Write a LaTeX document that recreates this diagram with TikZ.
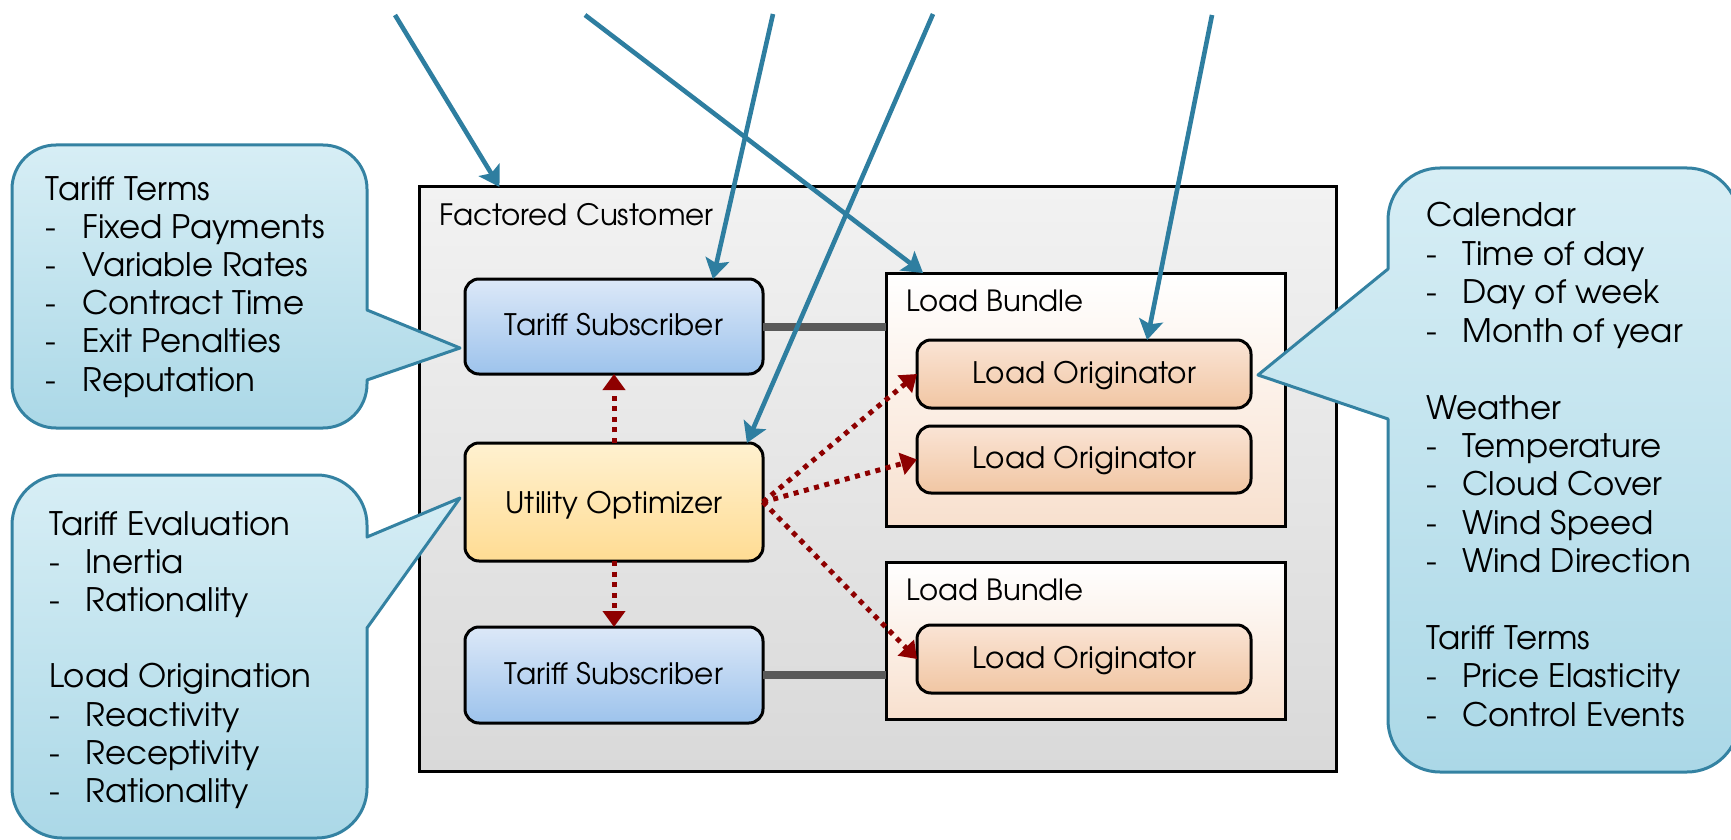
\documentclass[tikz,border=0pt]{standalone}
\usepackage{fontspec}
\setmainfont{texgyreadventor}[Extension=.otf, UprightFont=*-regular, BoldFont=*-bold]
\usetikzlibrary{arrows.meta,calc}
\definecolor{fcTop}{HTML}{F2F2F2}
\definecolor{fcBot}{HTML}{D9D9D9}
\definecolor{tsTop}{HTML}{DCE8F8}
\definecolor{tsBot}{HTML}{9DC3EC}
\definecolor{uoTop}{HTML}{FFF1D0}
\definecolor{uoBot}{HTML}{FFDC93}
\definecolor{lbTop}{HTML}{FFFFFF}
\definecolor{lbBot}{HTML}{F8E0CE}
\definecolor{loTop}{HTML}{FAE4D5}
\definecolor{loBot}{HTML}{F1C6A3}
\definecolor{coTop}{HTML}{D7EEF5}
\definecolor{coBot}{HTML}{ABD8E7}
\definecolor{coLine}{HTML}{3482A2}
\definecolor{arrBlue}{HTML}{2E7EA0}
\definecolor{redDot}{HTML}{8E0000}
\definecolor{connGray}{HTML}{595959}
\newcommand\itm[1]{\makebox[18.2pt][l]{-}#1}
\tikzset{
  boxbase/.style={draw=black, line width=1.5pt, inner sep=0pt, outer sep=0pt,
    font=\fontsize{14.8pt}{18pt}\selectfont, text height=9pt, text depth=0pt},
  fcbox/.style={boxbase, top color=fcTop, bottom color=fcBot},
  tsbox/.style={boxbase, rounded corners=7pt, top color=tsTop, bottom color=tsBot},
  uobox/.style={boxbase, rounded corners=7pt, top color=uoTop, bottom color=uoBot, text height=11pt},
  lbbox/.style={boxbase, top color=lbTop, bottom color=lbBot},
  lobox/.style={boxbase, rounded corners=7pt, top color=loTop, bottom color=loBot},
  lbl/.style={inner sep=0pt, outer sep=0pt, anchor=base west, font=\fontsize{14.6pt}{18pt}\selectfont},
  cotext/.style={inner sep=0pt, outer sep=0pt, anchor=base west, font=\fontsize{16.2pt}{19pt}\selectfont},
  callout/.style={draw=coLine, line width=1.5pt, top color=coTop, bottom color=coBot, line join=round},
  bluearr/.style={draw=arrBlue, line width=2.3pt, -{Stealth[length=10pt, width=12pt, inset=2pt]}},
  redarr/.style={draw=redDot, line width=2.5pt, dash pattern=on 2.5pt off 2.8pt,
    -{Triangle[length=8pt, width=11pt]}},
  grayconn/.style={draw=connGray, line width=4pt}
}
\begin{document}
\begin{tikzpicture}[x=0.5pt, y=-0.5pt]
\useasboundingbox (0,0) rectangle (1731,840);

% Factored customer container
\node[fcbox, minimum width=458.5pt, minimum height=292pt] (fc) at (877.5,479) {};
\node[lbl, font=\fontsize{14.7pt}{17pt}\selectfont] (fclbl) at (439,226) {Factored Customer};

% left column
\node[tsbox, minimum width=149pt, minimum height=47.5pt] (ts1) at (614,326.5) {Tariff Subscriber};
\node[uobox, minimum width=149pt, minimum height=59pt] (uo) at (614,502) {Utility Optimizer};
\node[tsbox, minimum width=149pt, minimum height=48pt] (ts2) at (614,675) {Tariff Subscriber};

% load bundles
\node[lbbox, minimum width=199.5pt, minimum height=126.5pt] (lb1) at (1085.5,399.5) {};
\node[lbl] (lb1lbl) at (906,311.7) {Load Bundle};
\node[lobox, minimum width=167pt, minimum height=34pt] (lo1) at (1084,374) {Load Originator};
\node[lobox, minimum width=167pt, minimum height=33.5pt] (lo2) at (1084,459.5) {Load Originator};

\node[lbbox, minimum width=199.5pt, minimum height=78.5pt] (lb2) at (1085.5,640.5) {};
\node[lbl] (lb2lbl) at (906,600) {Load Bundle};
\node[lobox, minimum width=167pt, minimum height=34pt] (lo3) at (1084,659) {Load Originator};

% connectors
\draw[grayconn] (ts1.east) -- (ts1.east -| lb1.west);
\draw[grayconn] (ts2.east) -- (ts2.east -| lb2.west);
\draw[redarr] (uo.north) -- (ts1.south);
\draw[redarr] (uo.south) -- (ts2.north);
\draw[redarr] (uo.east) -- (lo1.west);
\draw[redarr] (uo.east) -- (lo2.west);
\draw[redarr] (uo.east) -- (lo3.west);

% callouts
\draw[callout] (12,189) arc[start angle=180,end angle=90,radius=22pt] -- (323,145)
  arc[start angle=90,end angle=0,radius=22pt] -- (367,310) -- (460,348) -- (367,380) -- (367,384)
  arc[start angle=0,end angle=-90,radius=22pt] -- (56,428)
  arc[start angle=270,end angle=180,radius=22pt] -- cycle;
\draw[callout] (12,525) arc[start angle=180,end angle=90,radius=25pt] -- (317,475)
  arc[start angle=90,end angle=0,radius=25pt] -- (367,537) -- (460,498) -- (367,628) -- (367,788)
  arc[start angle=0,end angle=-90,radius=25pt] -- (62,838)
  arc[start angle=270,end angle=180,radius=25pt] -- cycle;
\draw[callout] (1388,220) arc[start angle=180,end angle=90,radius=26pt] -- (1687,168)
  arc[start angle=90,end angle=0,radius=26pt] -- (1739,720)
  arc[start angle=0,end angle=-90,radius=26pt] -- (1440,772)
  arc[start angle=270,end angle=180,radius=26pt] -- (1388,419) -- (1258,375) -- (1388,269) -- cycle;

% callout texts
\foreach \i/\t in {0/Tariff Terms, 1/\itm{Fixed Payments}, 2/\itm{Variable Rates},
  3/\itm{Contract Time}, 4/\itm{Exit Penalties}, 5/\itm{Reputation}}
  \node[cotext] (ca-\i) at (46,{200+38.2*\i}) {\t};
\foreach \i/\t in {0/Tariff Evaluation, 1/\itm{Inertia}, 2/\itm{Rationality},
  4/Load Origination, 5/\itm{Reactivity}, 6/\itm{Receptivity}, 7/\itm{Rationality}}
  \node[cotext] (cb-\i) at (49,{535+38.2*\i}) {\t};
\foreach \i/\t in {0/Calendar, 1/\itm{Time of day}, 2/\itm{Day of week}, 3/\itm{Month of year},
  5/Weather, 6/\itm{Temperature}, 7/\itm{Cloud Cover}, 8/\itm{Wind Speed}, 9/\itm{Wind Direction},
  11/Tariff Terms, 12/\itm{Price Elasticity}, 13/\itm{Control Events}}
  \node[cotext] (cc-\i) at (1426,{227+38.4*\i}) {\t};

% incoming arrows (free ends above the picture)
\coordinate (s1) at (395,15);
\coordinate (s2) at (585,15);
\coordinate (s3) at (773,14);
\coordinate (s4) at (933,14);
\coordinate (s5) at (1212,15);
\draw[bluearr] (s1) -- ($(fc.north west)!0.0878!(fc.north east)$);
\draw[bluearr] (s2) -- ($(lb1.north west)!0.093!(lb1.north east)$);
\draw[bluearr] (s3) -- ($(ts1.north west)!0.832!(ts1.north east)$);
\draw[bluearr] (s4) -- ($(uo.north west)!0.946!(uo.north east)$);
\draw[bluearr] (s5) -- ($(lo1.north west)!0.689!(lo1.north east)$);
\end{tikzpicture}
\end{document}
